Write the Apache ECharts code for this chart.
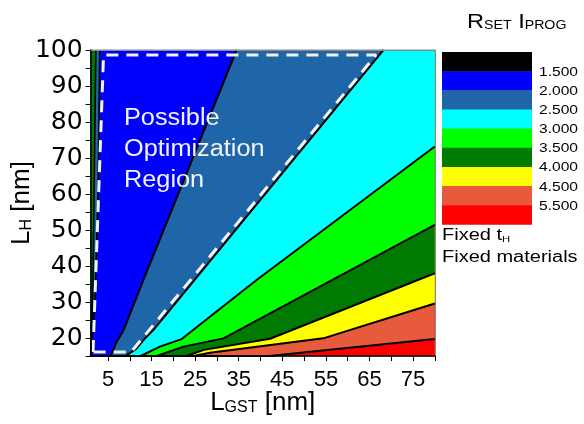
<!DOCTYPE html>
<html><head><meta charset="utf-8">
<script src="https://cdn.jsdelivr.net/npm/echarts@6/dist/echarts.min.js"></script>
<style>html,body{margin:0;padding:0;background:#fff}#c{width:584px;height:424px}</style>
</head><body><div id="c"></div>
<script>
// ---- axis ticks / labels ----
const xTicks = [5,10,15,20,25,30,35,40,45,50,55,60,65,70,75,80];
const xLabels = [5,15,25,35,45,55,65,75];
const yTicks = [15,20,25,30,35,40,45,50,55,60,65,70,75,80,85,90,95,100];
const yLabels = [20,30,40,50,60,70,80,90,100];

// ---- legend ----
const legendColors = ['#000000','#0000ff','#1f66a8','#00ffff','#00ff00','#007a00','#ffff00','#e85a3c','#ff0000'];
const legendLabels = ['1.500','2.000','2.500','3.000','3.500','4.000','4.500','5.500'];

// ---- contour boundaries [L_GST, L_H]; region on the upper-left side of each line gets the colour ----
const baseRed        = [[1,15],[80,15]];
const lineSalmonRed  = [[1,15],[42,15],[80,19.7]];
const lineYellowSal  = [[1,15],[24.6,15],[28.4,15.9],[54.4,19.9],[80,29.6]];
const lineDGreenYel  = [[1,15],[23,15],[27,16.7],[42.2,19.8],[80,38]];
const lineGreenDG    = [[1,15],[16.2,15],[22.3,17.6],[31.5,19.9],[80,51.4]];
const lineCyanGreen  = [[1,15],[12.5,15],[16.9,17.6],[21.9,19.7],[39.1,36.1],[80,73.2]];
const lineSteelCyan  = [[1,15],[9.0,15],[11.4,16.9],[13.5,19.9],[15.4,22.2],[68.2,100]];
const lineBlueSteel  = [[1,15],[5.6,15],[7.0,19],[8.5,22],[13.1,36.1],[34.5,100]];
const lineEdgeSteel  = [[1,15],[1.35,15],[2.0,30],[2.7,60],[3.1,100]];
const lineEdgeDGreen = [[1,15],[1.1,15],[1.5,30],[1.8,60],[2.2,100]];

// ---- dashed "possible optimization region" outline ----
const optRegion = [[1.56,16.1],[3.97,98.6],[66.5,98.6],[10.3,16.1],[1.56,16.1]];

const layers = [
  {data: baseRed,        color: legendColors[8], stroke: 0},
  {data: lineSalmonRed,  color: legendColors[7], stroke: 2},
  {data: lineYellowSal,  color: legendColors[6], stroke: 2},
  {data: lineDGreenYel,  color: legendColors[5], stroke: 2},
  {data: lineGreenDG,    color: legendColors[4], stroke: 2},
  {data: lineCyanGreen,  color: legendColors[3], stroke: 2},
  {data: lineSteelCyan,  color: legendColors[2], stroke: 2},
  {data: lineBlueSteel,  color: legendColors[1], stroke: 2},
  {data: lineEdgeSteel,  color: legendColors[2], stroke: 1.6},
  {data: lineEdgeDGreen, color: legendColors[5], stroke: 1.6}
];

const series = layers.map(l => ({
  type: 'line', data: l.data, symbol: 'none', silent: true, animation: false, clip: true,
  lineStyle: {color: '#000', width: l.stroke, opacity: l.stroke ? 1 : 0},
  areaStyle: {color: l.color, opacity: 1, origin: 'end'}
}));
series.push({
  type: 'line', data: optRegion, symbol: 'none', silent: true, animation: false, clip: false, z: 5,
  lineStyle: {color: '#f2f2f2', width: 3, type: [12, 8]}
});

const graphic = [];
const boxL = 442, boxT = 52, boxW = 90, boxH = 19.15;
legendColors.forEach((c, i) => {
  graphic.push({type: 'rect', x: boxL, y: boxT + i * boxH, shape: {width: boxW, height: boxH + 0.5}, style: {fill: c}, silent: true});
});
legendLabels.forEach((t, i) => {
  graphic.push({type: 'text', x: 539, y: boxT + (i + 1) * boxH + 1, scaleX: 1.2,
    style: {text: t, fontSize: 13, fontFamily: 'Liberation Sans', fill: '#000', textVerticalAlign: 'middle', textAlign: 'left'}});
});
graphic.push({type: 'text', x: 467, y: 7, scaleX: 1.18,
  style: {text: '{b|R}{s|SET}{b| I}{s|PROG}', fontFamily: 'Liberation Sans', fill: '#000', textVerticalAlign: 'top',
    rich: {b: {fontSize: 20, fontFamily: 'Liberation Sans', verticalAlign: 'bottom', lineHeight: 25},
           s: {fontSize: 12, fontFamily: 'Liberation Sans', verticalAlign: 'bottom', lineHeight: 12}}}});
graphic.push({type: 'text', x: 442, y: 224, scaleX: 1.25,
  style: {text: '{a|Fixed t}{h|H}', fill: '#000', textVerticalAlign: 'top',
    rich: {a: {fontSize: 16, fontFamily: 'Liberation Sans', verticalAlign: 'bottom', lineHeight: 20},
           h: {fontSize: 9, fontFamily: 'Liberation Sans', verticalAlign: 'bottom', lineHeight: 8}}}});
graphic.push({type: 'text', x: 442, y: 250, scaleX: 1.25,
  style: {text: 'Fixed materials', fontSize: 16, fontFamily: 'Liberation Sans', fill: '#000', textVerticalAlign: 'top'}});
graphic.push({type: 'text', x: 124, y: 103, scaleX: 1.1, z: 10,
  style: {text: 'Possible\nOptimization\nRegion', fontSize: 23, lineHeight: 31, fontFamily: 'Liberation Sans', fill: '#f4f4f4', textVerticalAlign: 'top'}});

const chart = echarts.init(document.getElementById('c'), null, {renderer: 'canvas'});
chart.setOption({
  animation: false,
  backgroundColor: '#fff',
  grid: {left: 90.6, right: 149.2, top: 50, bottom: 68, containLabel: false, outerBoundsMode: 'none',
         show: true, borderColor: '#888', borderWidth: 1, backgroundColor: 'transparent'},
  xAxis: [{
    type: 'value', min: 1, max: 80, z: 10,
    axisLine: {show: true, onZero: false, lineStyle: {color: '#000', width: 1.5}},
    axisTick: {show: true, inside: false, length: 5, customValues: xTicks, lineStyle: {color: '#000', width: 1}},
    axisLabel: {customValues: xLabels, fontSize: 22, fontFamily: 'Liberation Sans', color: '#000', margin: 13},
    splitLine: {show: false},
    name: '{l|L}{s|GST}{l| [nm]}', nameLocation: 'middle', nameGap: 30, nameMoveOverlap: false,
    nameTextStyle: {color: '#000', rich: {
      l: {fontSize: 26, fontFamily: 'Liberation Sans', color: '#000', verticalAlign: 'bottom', lineHeight: 30},
      s: {fontSize: 16, fontFamily: 'Liberation Sans', color: '#000', verticalAlign: 'bottom', lineHeight: 13}}}
  }, {
    type: 'value', min: 1, max: 80, position: 'top', z: 10,
    axisLine: {show: true, lineStyle: {color: '#888', width: 1}}, axisTick: {show: false}, axisLabel: {show: false}, splitLine: {show: false}
  }],
  yAxis: [{
    type: 'value', min: 15, max: 100, z: 10,
    axisLine: {show: true, onZero: false, lineStyle: {color: '#000', width: 1.5}},
    axisTick: {show: true, inside: false, length: 5, customValues: yTicks, lineStyle: {color: '#000', width: 1}},
    axisLabel: {customValues: yLabels, fontSize: 25, fontFamily: 'DejaVu Sans', color: '#000', margin: 8},
    splitLine: {show: false},
    name: '{l|L}{s|H}{l| [nm]}', nameLocation: 'middle', nameGap: 56, nameRotate: 90, nameMoveOverlap: false,
    nameTextStyle: {color: '#000', rich: {
      l: {fontSize: 26, fontFamily: 'Liberation Sans', color: '#000', verticalAlign: 'bottom', lineHeight: 30},
      s: {fontSize: 16, fontFamily: 'Liberation Sans', color: '#000', verticalAlign: 'bottom', lineHeight: 14}}}
  }, {
    type: 'value', min: 15, max: 100, position: 'right', z: 10,
    axisLine: {show: true, lineStyle: {color: '#888', width: 1}}, axisTick: {show: false}, axisLabel: {show: false}, splitLine: {show: false}
  }],
  series: series,
  graphic: graphic
});
</script>
</body></html>
